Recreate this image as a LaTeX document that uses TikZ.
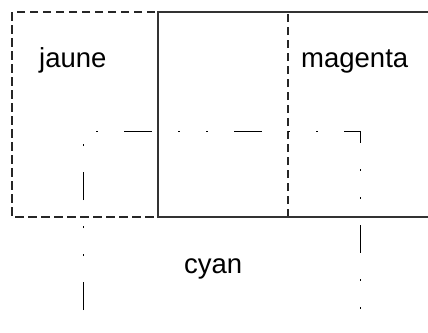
\documentclass[tikz,border=0pt]{standalone}
\usepackage{fontspec}
\setmainfont{Liberation Sans}
\begin{document}
\begin{tikzpicture}[x=1pt,y=-1pt,
  label text/.style={inner sep=0pt,anchor=base west,font=\fontsize{27.5}{32}\selectfont},
  yellow frame/.style={draw=black!85,line width=1.3pt,dash pattern=on 8.5pt off 4.5pt},
  magenta frame/.style={draw=black!80,line width=1.4pt},
  cyan frame/.style={draw=black,line width=0.9pt,dash pattern=on 28pt off 26pt on 2pt off 26pt on 2pt off 26pt}]
  \useasboundingbox (0,0) rectangle (428,332);
  \clip (0,0) rectangle (428,332);

  % three overlapping frames
  \draw[yellow frame] (12,12) rectangle (288,217);
  \draw[magenta frame] (158,12) rectangle (440,217);
  \coordinate (cbl) at (83,420);
  \coordinate (ctl) at (83,131);
  \coordinate (ctr) at (360,131);
  \coordinate (cbr) at (360,420);
  \draw[cyan frame] (cbl) -- (ctl) -- (ctr) -- (cbr);

  % labels
  \node[label text] (jaune) at (39,67) {jaune};
  \node[label text] (magenta) at (301,67) {magenta};
  \node[label text] (cyan) at (184,273) {cyan};
\end{tikzpicture}
\end{document}
